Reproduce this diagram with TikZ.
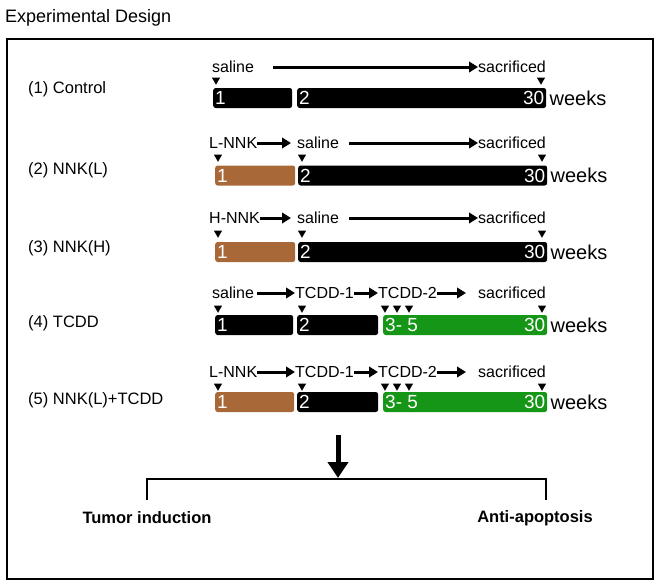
\documentclass[tikz,border=0pt]{standalone}
\usepackage{fontspec}
\setmainfont{Liberation Sans}
\usepackage{tikz}
\usetikzlibrary{shapes, arrows.meta, positioning, calc}

\definecolor{nnkbrown}{RGB}{168,104,56}
\definecolor{tcddgreen}{RGB}{22,150,22}

\tikzset{
  grp/.style={anchor=west, inner sep=0, font=\fontsize{16.5}{18}\selectfont},
  lbl/.style={inner sep=0, font=\fontsize{16}{18}\selectfont},
  tri/.style={regular polygon, regular polygon sides=3, shape border rotate=180, fill=black, inner sep=0, minimum size=9.5pt},
  flow/.style={line width=3pt, -{Triangle[length=9pt,width=10.5pt]}},
  bar/.style={rounded corners=2.5pt, minimum height=20pt, inner sep=0, anchor=west},
  num/.style={text=white, inner sep=2pt, font=\fontsize{19}{20}\selectfont},
  wk/.style={anchor=west, inner sep=3pt, font=\fontsize{20}{22}\selectfont},
  outc/.style={inner sep=0, font=\bfseries\fontsize{16.5}{18}\selectfont}
}

\begin{document}
\begin{tikzpicture}[x=1pt, y=-1pt]
  \useasboundingbox (0,0) rectangle (662,587);
  \node[anchor=west, inner sep=0, font=\fontsize{18}{20}\selectfont] (title) at (5,18) {Experimental Design};
  \draw[line width=2pt] (7,39) rectangle (653,579);

  % (1) control
  \node[grp] (g1) at (28,89) {(1) Control};
  \node[lbl, anchor=west] (sal1) at (212,67) {saline};
  \node[lbl, anchor=east] (sac1) at (546,67) {sacrificed};
  \draw[flow] ([xshift=19pt]sal1.east) -- (sac1.west);
  \node[tri] (t11) at (216,80) {};
  \node[tri] (t12) at (541,80) {};
  \node[bar, fill=black, minimum width=79pt] (b11) at (213,98) {};
  \node[bar, fill=black, minimum width=249pt] (b12) at (297,98) {};
  \node[num, anchor=west] at (b11.west) {1};
  \node[num, anchor=west] at (b12.west) {2};
  \node[num, anchor=east] at (b12.east) {30};
  \node[wk] (w1) at (b12.east) {weeks};

  % (2) NNK low
  \node[grp] (g2) at (28,170) {(2) NNK(L)};
  \node[lbl, anchor=west] (nnk2) at (209,143) {L-NNK};
  \node[lbl, anchor=west] (sal2) at (297,143) {saline};
  \node[lbl, anchor=east] (sac2) at (546,143) {sacrificed};
  \draw[flow, shorten >=6pt] (nnk2.east) -- (sal2.west);
  \draw[flow] ([xshift=10pt]sal2.east) -- (sac2.west);
  \node[tri] (t21) at (218,157) {};
  \node[tri] (t22) at (302,157) {};
  \node[tri] (t23) at (542,157) {};
  \node[bar, fill=nnkbrown, minimum width=80pt] (b21) at (215,175.5) {};
  \node[bar, fill=black, minimum width=249pt] (b22) at (298,175.5) {};
  \node[num, anchor=west] at (b21.west) {1};
  \node[num, anchor=west] at (b22.west) {2};
  \node[num, anchor=east] at (b22.east) {30};
  \node[wk] (w2) at (b22.east) {weeks};

  % (3) NNK high
  \node[grp] (g3) at (28,248) {(3) NNK(H)};
  \node[lbl, anchor=west] (nnk3) at (209,218) {H-NNK};
  \node[lbl, anchor=west] (sal3) at (297,218) {saline};
  \node[lbl, anchor=east] (sac3) at (546,218) {sacrificed};
  \draw[flow, shorten >=6pt] (nnk3.east) -- (sal3.west);
  \draw[flow] ([xshift=10pt]sal3.east) -- (sac3.west);
  \node[tri] (t31) at (218,233) {};
  \node[tri] (t32) at (302,233) {};
  \node[tri] (t33) at (542,233) {};
  \node[bar, fill=nnkbrown, minimum width=80pt] (b31) at (215,252) {};
  \node[bar, fill=black, minimum width=249pt] (b32) at (298,252) {};
  \node[num, anchor=west] at (b31.west) {1};
  \node[num, anchor=west] at (b32.west) {2};
  \node[num, anchor=east] at (b32.east) {30};
  \node[wk] (w3) at (b32.east) {weeks};

  % (4) TCDD
  \node[grp] (g4) at (28,323) {(4) TCDD};
  \node[lbl, anchor=west] (sal4) at (212,293) {saline};
  \node[lbl, anchor=west] (td14) at (295,293) {TCDD-1};
  \node[lbl, anchor=west] (td24) at (378,293) {TCDD-2};
  \node[lbl, anchor=east] (sac4) at (546,293) {sacrificed};
  \draw[flow] ([xshift=3pt]sal4.east) -- (td14.west);
  \draw[flow] (td14.east) -- (td24.west);
  \draw[flow, shorten >=12pt] (td24.east) -- (sac4.west);
  \node[tri] (t41) at (218,308) {};
  \node[tri] (t42) at (302,308) {};
  \node[tri] (t43) at (385,308) {};
  \node[tri] (t44) at (397,308) {};
  \node[tri] (t45) at (409,308) {};
  \node[tri] (t46) at (542,308) {};
  \node[bar, fill=black, minimum width=78pt] (b41) at (215,325) {};
  \node[bar, fill=black, minimum width=81pt] (b42) at (297,325) {};
  \node[bar, fill=tcddgreen, minimum width=164pt] (b43) at (383,325) {};
  \node[num, anchor=west] at (b41.west) {1};
  \node[num, anchor=west] at (b42.west) {2};
  \node[num, anchor=west] at (b43.west) {3- 5};
  \node[num, anchor=east] at (b43.east) {30};
  \node[wk] (w4) at (b43.east) {weeks};

  % (5) NNK low + TCDD
  \node[grp] (g5) at (28,400) {(5) NNK(L)+TCDD};
  \node[lbl, anchor=west] (nnk5) at (209,372) {L-NNK};
  \node[lbl, anchor=west] (td15) at (295,372) {TCDD-1};
  \node[lbl, anchor=west] (td25) at (378,372) {TCDD-2};
  \node[lbl, anchor=east] (sac5) at (546,372) {sacrificed};
  \draw[flow] (nnk5.east) -- (td15.west);
  \draw[flow] (td15.east) -- (td25.west);
  \draw[flow, shorten >=12pt] (td25.east) -- (sac5.west);
  \node[tri] (t51) at (218,386) {};
  \node[tri] (t52) at (302,386) {};
  \node[tri] (t53) at (385,386) {};
  \node[tri] (t54) at (397,386) {};
  \node[tri] (t55) at (409,386) {};
  \node[tri] (t56) at (542,386) {};
  \node[bar, fill=nnkbrown, minimum width=79pt] (b51) at (215,402) {};
  \node[bar, fill=black, minimum width=81pt] (b52) at (297,402) {};
  \node[bar, fill=tcddgreen, minimum width=164pt] (b53) at (383,402) {};
  \node[num, anchor=west] at (b51.west) {1};
  \node[num, anchor=west] at (b52.west) {2};
  \node[num, anchor=west] at (b53.west) {3- 5};
  \node[num, anchor=east] at (b53.east) {30};
  \node[wk] (w5) at (b53.east) {weeks};

  % outcome
  \coordinate (arrtop) at (338,435);
  \coordinate (arrtip) at (338,478);
  \draw[line width=5pt, -{Triangle[length=16pt,width=20pt]}] (arrtop) -- (arrtip);
  \coordinate (legl) at (147,500);
  \coordinate (legr) at (546,500);
  \draw[line width=2pt] (legl) -- ++(0,-21) -| (legr);
  \node[outc] (tumor) at (147,518) {Tumor induction};
  \node[outc] (apop) at (535,518) {Anti-apoptosis};
\end{tikzpicture}
\end{document}
